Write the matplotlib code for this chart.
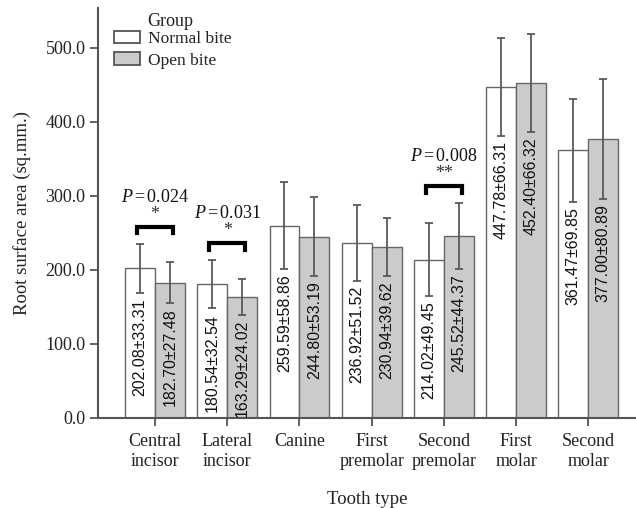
import matplotlib
matplotlib.use("Agg")
import matplotlib.pyplot as plt
import numpy as np
from matplotlib.patches import Patch

categories = ["Central\nincisor", "Lateral\nincisor", "Canine", "First\npremolar",
              "Second\npremolar", "First\nmolar", "Second\nmolar"]
normal_mean = [202.08, 180.54, 259.59, 236.92, 214.02, 447.78, 361.47]
normal_sd = [33.31, 32.54, 58.86, 51.52, 49.45, 66.31, 69.85]
open_mean = [182.70, 163.29, 244.80, 230.94, 245.52, 452.40, 377.00]
open_sd = [27.48, 24.02, 53.19, 39.62, 44.37, 66.32, 80.89]
yticks = [0, 100, 200, 300, 400, 500]
sig_index = [0, 1, 4]
sig_p = ["0.024", "0.031", "0.008"]
sig_stars = ["*", "*", "**"]

serif = "Liberation Serif"
sans = "Liberation Sans"
plt.rcParams["mathtext.fontset"] = "custom"
plt.rcParams["mathtext.rm"] = "Liberation Serif"
plt.rcParams["mathtext.it"] = "Liberation Serif:italic"

fig = plt.figure(figsize=(6.36, 5.08), dpi=100)
ax = fig.add_axes([98/636, 90/508, 1 - 98/636, (418-8)/508])

x = np.arange(len(categories))
w = 0.415
edge = "#666666"
ecol = "#5a5a5a"
gray = "#cbcbcb"

ax.bar(x - w/2, normal_mean, w, color="white", edgecolor=edge, linewidth=1.0, zorder=2)
ax.bar(x + w/2, open_mean, w, color=gray, edgecolor=edge, linewidth=1.0, zorder=2)
ax.errorbar(x - w/2, normal_mean, yerr=normal_sd, fmt="none", ecolor=ecol,
            elinewidth=1.3, capsize=3, capthick=1.3, zorder=3)
ax.errorbar(x + w/2, open_mean, yerr=open_sd, fmt="none", ecolor=ecol,
            elinewidth=1.3, capsize=3, capthick=1.3, zorder=3)

for xi, m, s in zip(x - w/2, normal_mean, normal_sd):
    ax.text(xi, m - s - 7, f"{m:.2f}\u00b1{s:.2f}", rotation=90, ha="center", va="top",
            fontsize=11.5, family=sans, color="#111111", zorder=4)
for xi, m, s in zip(x + w/2, open_mean, open_sd):
    ax.text(xi, m - s - 7, f"{m:.2f}\u00b1{s:.2f}", rotation=90, ha="center", va="top",
            fontsize=11.5, family=sans, color="#111111", zorder=4)

for i, p, st in zip(sig_index, sig_p, sig_stars):
    top = max(normal_mean[i] + normal_sd[i], open_mean[i] + open_sd[i]) + 23
    ax.plot([i - 0.25, i - 0.25, i + 0.25, i + 0.25], [top - 9, top, top, top - 9],
            color="black", lw=3, solid_joinstyle="miter", zorder=4)
    ax.text(i, top + 17, st, ha="center", va="center", fontsize=13, family=serif, color="#333333")
    ax.text(i, top + 40, f"$\\mathit{{P}}\\,$=$\\,${p}", ha="center", va="center", fontsize=13,
            family=serif, color="#111111")

ax.set_xlim(-0.79, 6.66)
ax.set_ylim(0, 554)
ax.set_yticks(yticks)
ax.set_yticklabels([f"{v:.1f}" for v in yticks], family=serif, fontsize=13, color="#222222")
ax.set_xticks(x)
ax.set_xticklabels(categories, family=serif, fontsize=13, color="#222222", linespacing=1.2)
ax.tick_params(axis="both", length=6, width=1.3, color="#555555", direction="out")
ax.tick_params(axis="x", pad=5)
ax.tick_params(axis="y", pad=3)
for s in ["top", "right"]:
    ax.spines[s].set_visible(False)
for s in ["left", "bottom"]:
    ax.spines[s].set_color("#555555")
    ax.spines[s].set_linewidth(1.5)

ax.set_ylabel("Root surface area (sq.mm.)", family=serif, fontsize=13.5, color="#222222", labelpad=10)
ax.set_xlabel("Tooth type", family=serif, fontsize=13.5, color="#222222", labelpad=15)

fig.text(147/636, 1 - 21/508, "Group", ha="left", va="center",
         fontsize=13, family=serif, color="#222222")

handles = [Patch(facecolor="white", edgecolor="#555555", linewidth=1.3),
           Patch(facecolor=gray, edgecolor="#555555", linewidth=1.3)]
leg = fig.legend(handles, ["Normal bite", "Open bite"], loc="upper left",
                 bbox_to_anchor=(114/636, 1 - 31/508), frameon=False,
                 prop={"family": serif, "size": 12.5}, handlelength=1.5, handleheight=0.7,
                 handletextpad=0.45, labelspacing=0.3, borderpad=0, borderaxespad=0)
for t in leg.get_texts():
    t.set_color("#222222")

fig.savefig("out.png", dpi=100)
